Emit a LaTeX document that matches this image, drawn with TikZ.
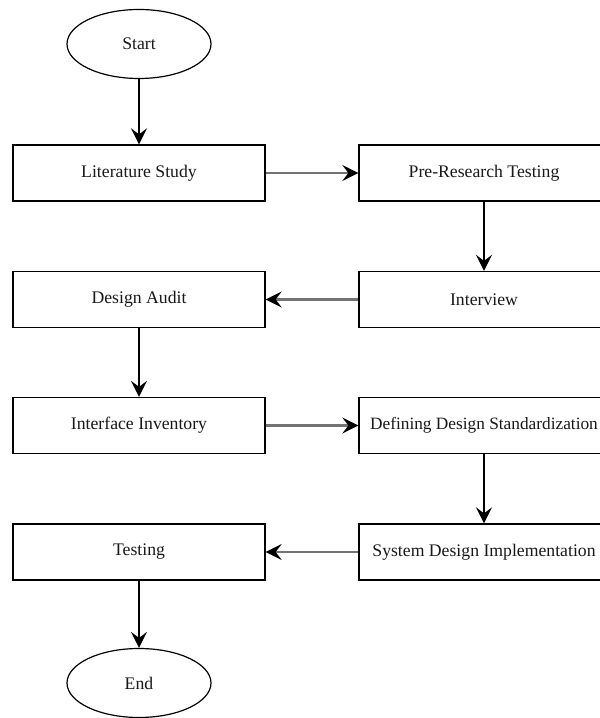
\documentclass[tikz,border=0pt]{standalone}
\usepackage{fontspec}
\setmainfont{Liberation Serif}
\usetikzlibrary{shapes.geometric,arrows.meta}
\definecolor{hline}{RGB}{115,115,115}
\begin{document}
\begin{tikzpicture}[x=1pt,y=1pt,
  every node/.style={font=\fontsize{17.7}{19}\selectfont, text=black!90},
  stepbox/.style={draw=black, line width=1.3pt, rectangle, minimum width=252pt, minimum height=56pt, inner sep=0pt},
  term/.style={draw=black, line width=1.2pt, ellipse, minimum width=144pt, minimum height=69pt, inner sep=0pt},
  varrow/.style={draw=black, line width=1.6pt, -{Stealth[length=16pt,width=16pt,inset=6pt]}},
  harrow/.style={draw=hline, line width=2.4pt, -{Stealth[length=16pt,width=16pt,inset=6pt,fill=black,color=black]}}
]
\clip (0,0) rectangle (600,718);
\fill[white] (0,0) rectangle (600,718);
\node[term] (start) at (139,674) {Start};
\node[stepbox] (lit) at (139,545) {Literature Study};
\node[stepbox, minimum width=250pt] (pre) at (484,545) {Pre-Research Testing};
\node[stepbox, minimum width=250pt] (inter) at (484,418.5) {Interview};
\node[stepbox] (audit) at (139,418.5) {Design Audit};
\node[stepbox] (inv) at (139,292.5) {Interface Inventory};
\node[stepbox, minimum width=250pt] (def) at (484,292.5) {\fontsize{17.3}{19}\selectfont Defining Design Standardization};
\node[stepbox, minimum width=250pt] (sys) at (484,166) {System Design Implementation};
\node[stepbox] (test) at (139,166) {Testing};
\node[term] (end) at (139,35) {End};
\draw[varrow] (start) -- (lit);
\draw[harrow] (lit) -- (pre);
\draw[varrow] (pre) -- (inter);
\draw[harrow] (inter) -- (audit);
\draw[varrow] (audit) -- (inv);
\draw[harrow] (inv) -- (def);
\draw[varrow] (def) -- (sys);
\draw[harrow] (sys) -- (test);
\draw[varrow] (test) -- (end);
\end{tikzpicture}
\end{document}
